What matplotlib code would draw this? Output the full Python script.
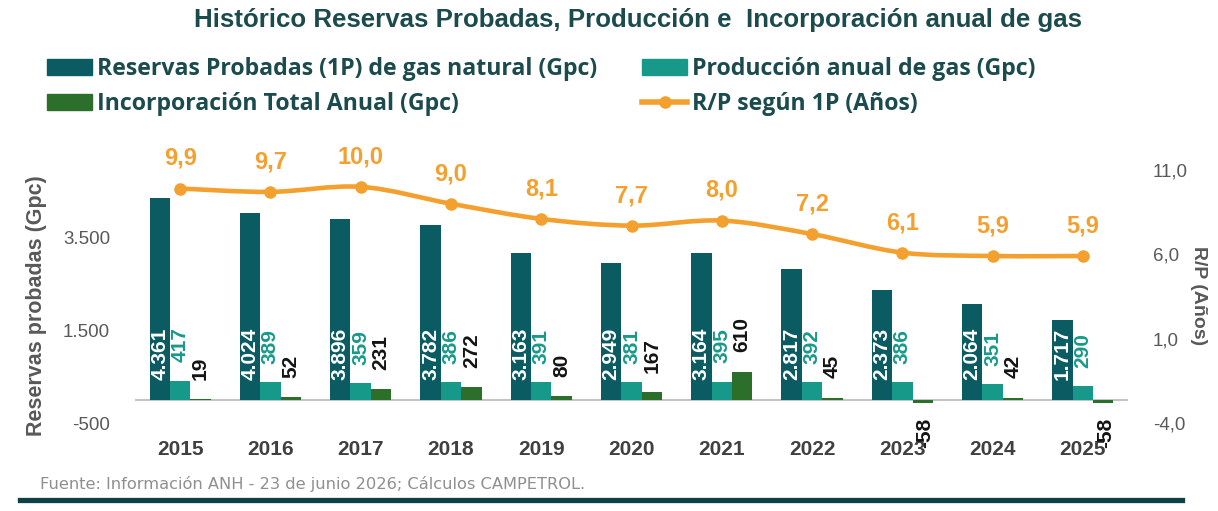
import numpy as np
import matplotlib.pyplot as plt
from matplotlib.path import Path
from matplotlib.patches import PathPatch, Patch
from matplotlib.lines import Line2D

# Data
years = ["2015", "2016", "2017", "2018", "2019", "2020", "2021", "2022", "2023", "2024", "2025"]
reservas = [4361, 4024, 3896, 3782, 3163, 2949, 3164, 2817, 2373, 2064, 1717]
produccion = [417, 389, 359, 386, 391, 381, 395, 392, 386, 351, 290]
incorporacion = [19, 52, 231, 272, 80, 167, 610, 45, -58, 42, -58]
rp = [9.9, 9.7, 10.0, 9.0, 8.1, 7.7, 8.0, 7.2, 6.1, 5.9, 5.9]

left_ticks = [-500, 1500, 3500]
right_ticks = [-4, 1, 6, 11]

c_res = "#0b5c62"
c_prod = "#17998a"
c_inc = "#2b6f2b"
c_rp = "#f4a02e"
c_text = "#1b4b4d"
c_axis = "#595959"

plt.rcParams['font.family'] = ['Liberation Sans', 'DejaVu Sans']

fig = plt.figure(figsize=(12.18, 5.11), dpi=100)
ax = fig.add_axes([135 / 1218, 1 - 423 / 511, (1128 - 135) / 1218, (423 - 145) / 511])
ax2 = ax.twinx()

x = np.arange(len(years))
w = 0.226

ax.bar(x - w, reservas, w, color=c_res)
ax.bar(x, produccion, w, color=c_prod)
ax.bar(x + w, incorporacion, w, color=c_inc)
ax.axhline(0, color="#c4c4c4", lw=1.5, zorder=0)

ax.set_xlim(-0.5, 10.5)
ax.set_ylim(-500, 5500)
ax2.set_ylim(-4, 12.48)

ax.set_xticks(x)
ax.set_xticklabels(years, fontsize=15, fontweight='bold', color="#404040")
ax.set_yticks(left_ticks)
ax.set_yticklabels([f"{v:,.0f}".replace(",", ".") for v in left_ticks], fontsize=13.5, color=c_axis)
ax2.set_yticks(right_ticks)
ax2.set_yticklabels([f"{v:.1f}".replace(".", ",") for v in right_ticks], fontsize=13.5, color=c_axis)
ax.tick_params(axis='x', length=0, pad=12)
ax.tick_params(axis='y', length=0, pad=18)
ax2.tick_params(axis='y', length=0, pad=18)
for a in (ax, ax2):
    for s in a.spines.values():
        s.set_visible(False)

# data labels on bars
for i in range(len(years)):
    ax.annotate(f"{reservas[i]:,}".replace(",", "."), (x[i] - w, 0), xytext=(0, 14.5),
                textcoords='offset points', rotation=90, ha='center', va='bottom',
                color='white', fontsize=15, fontweight='bold')
    ax.annotate(str(produccion[i]), (x[i], produccion[i]), xytext=(0, 13),
                textcoords='offset points', rotation=90, ha='center', va='bottom',
                color=c_prod, fontsize=15, fontweight='bold')
    v = incorporacion[i]
    if v >= 0:
        ax.annotate(str(v), (x[i] + w, v), xytext=(0, 14),
                    textcoords='offset points', rotation=90, ha='center', va='bottom',
                    color='#141414', fontsize=15, fontweight='bold')
    else:
        ax.annotate(str(v), (x[i] + w, v), xytext=(1.5, -11),
                    textcoords='offset points', rotation=90, ha='center', va='top',
                    color='#141414', fontsize=15, fontweight='bold')

# smoothed R/P line (Bezier through the points)
pts = np.column_stack([x, rp]).astype(float)
ext = np.vstack([pts[0], pts, pts[-1]])
verts = [pts[0]]
codes = [Path.MOVETO]
for i in range(len(pts) - 1):
    p0, p1, p2, p3 = ext[i], ext[i + 1], ext[i + 2], ext[i + 3]
    verts += [p1 + (p2 - p0) / 6, p2 - (p3 - p1) / 6, p2]
    codes += [Path.CURVE4] * 3
ax2.add_patch(PathPatch(Path(verts, codes), fill=False, edgecolor=c_rp, lw=3.3, capstyle='round'))
ax2.plot(x, rp, 'o', color=c_rp, ms=8)
for i in range(len(years)):
    ax2.annotate(f"{rp[i]:.1f}".replace(".", ","), (x[i], rp[i]), xytext=(0, 17),
                 textcoords='offset points', ha='center', va='baseline',
                 color=c_rp, fontsize=17, fontweight='bold')

# axis titles
fig.text(37 / 1218, 1 - 306 / 511, "Reservas probadas (Gpc)", rotation=90, ha='center', va='center',
         fontsize=15.5, fontweight='bold', color=c_axis)
fig.text(1198 / 1218, 1 - 296 / 511, "R/P (Años)", rotation=270, ha='center', va='center',
         fontsize=14, fontweight='bold', color=c_axis)

# title
fig.text(638 / 1218, 1 - 20 / 511, "Histórico Reservas Probadas, Producción e  Incorporación anual de gas",
         ha='center', va='center', fontsize=18.6, fontweight='bold', color=c_text)

# legend
handles = [Patch(color=c_res), Patch(color=c_inc), Patch(color=c_prod),
           Line2D([0], [0], color=c_rp, lw=4, marker='o', ms=8)]
labels = ["Reservas Probadas (1P) de gas natural (Gpc)", "Incorporación Total Anual (Gpc)",
          "Producción anual de gas (Gpc)", "R/P según 1P (Años)"]
fig.legend(handles, labels, ncol=2, loc='upper left', bbox_to_anchor=(47 / 1218, 1 - 57 / 511),
           frameon=False, borderpad=0, borderaxespad=0, handlelength=1.95, handleheight=0.7,
           handletextpad=0.2, columnspacing=1.94, labelspacing=0.48,
           prop={'family': 'Open Sans', 'weight': 'bold', 'size': 16.7}, labelcolor=c_text)

# source and bottom rule
fig.text(40 / 1218, 1 - 484 / 511, "Fuente: Información ANH - 23 de junio 2026; Cálculos CAMPETROL.",
         ha='left', va='center', fontsize=11.7, color="#8f8f8f", family='DejaVu Sans')
fig.add_artist(Line2D([20 / 1218, 1182 / 1218], [1 - 500 / 511, 1 - 500 / 511], color="#0d4047", lw=3.8))

plt.savefig("out.png", dpi=100)
